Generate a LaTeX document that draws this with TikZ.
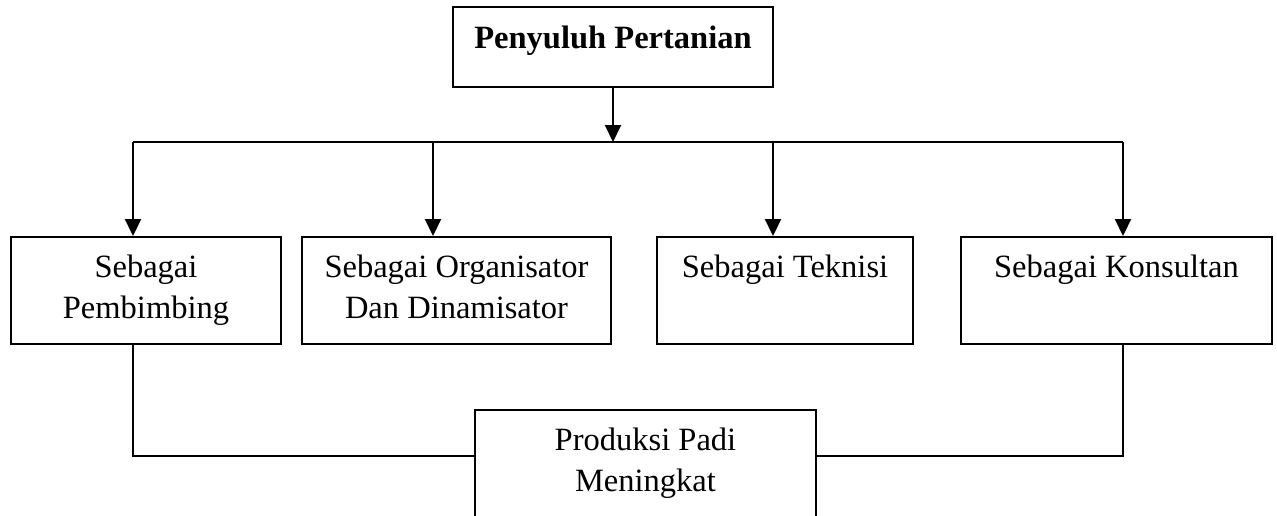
\documentclass[tikz,border=0pt]{standalone}
\usepackage{fontspec}
\setmainfont{Liberation Serif}
\usetikzlibrary{arrows.meta, positioning}

\begin{document}
\begin{tikzpicture}[
    box/.style={rectangle, draw=black, line width=1.1pt, minimum height=2.14cm,
                align=center, inner sep=0pt, text depth=0.16cm,
                font=\fontsize{18.5}{23.5}\selectfont},
    oneline/.style={text height=0.445cm, text depth=0.985cm},
    link/.style={line width=1.1pt, color=black},
    arrow/.style={link, -{Triangle[length=0.34cm, width=0.32cm]}}
  ]
    \useasboundingbox (0,0) rectangle (25.54,-10.30);
    % Penyuluh
    \node[box, minimum width=6.4cm, minimum height=1.6cm, text height=0.445cm,
          text depth=0.4cm, font=\fontsize{18.5}{23.5}\selectfont\bfseries]
          (pp) at (12.26,-0.94) {Penyuluh Pertanian};
    % Peran
    \node[box, minimum width=5.4cm] (pb) at (2.92,-5.81) {Sebagai\\Pembimbing};
    \node[box, minimum width=6.18cm] (org) at (9.13,-5.81) {Sebagai Organisator\\Dan Dinamisator};
    \node[box, oneline, minimum width=5.12cm] (tek) at (15.70,-5.81) {Sebagai Teknisi};
    \node[box, oneline, minimum width=6.22cm] (kon) at (22.33,-5.81) {Sebagai Konsultan};
    % Hasil
    \node[box, minimum width=6.82cm] (hasil) at (12.91,-9.27) {Produksi Padi\\Meningkat};

    % Bus
    \coordinate (d1) at (2.66,-2.84);
    \coordinate (d2) at (8.66,-2.84);
    \coordinate (d3) at (15.46,-2.84);
    \coordinate (d4) at (22.46,-2.84);
    \coordinate (m1) at (2.66,-9.12);
    \coordinate (m4) at (22.46,-9.12);

    % Arrows
    \draw[arrow] (pp.south) -- (pp.south |- d1);
    \draw[link] (d1) -- (d4);
    \draw[arrow] (d1) -- (d1 |- pb.north);
    \draw[arrow] (d2) -- (d2 |- org.north);
    \draw[arrow] (d3) -- (d3 |- tek.north);
    \draw[arrow] (d4) -- (d4 |- kon.north);
    \draw[link] (m1 |- pb.south) -- (m1) -- (m1 -| hasil.west);
    \draw[link] (m4 |- kon.south) -- (m4) -- (m4 -| hasil.east);
  \end{tikzpicture}
\end{document}
